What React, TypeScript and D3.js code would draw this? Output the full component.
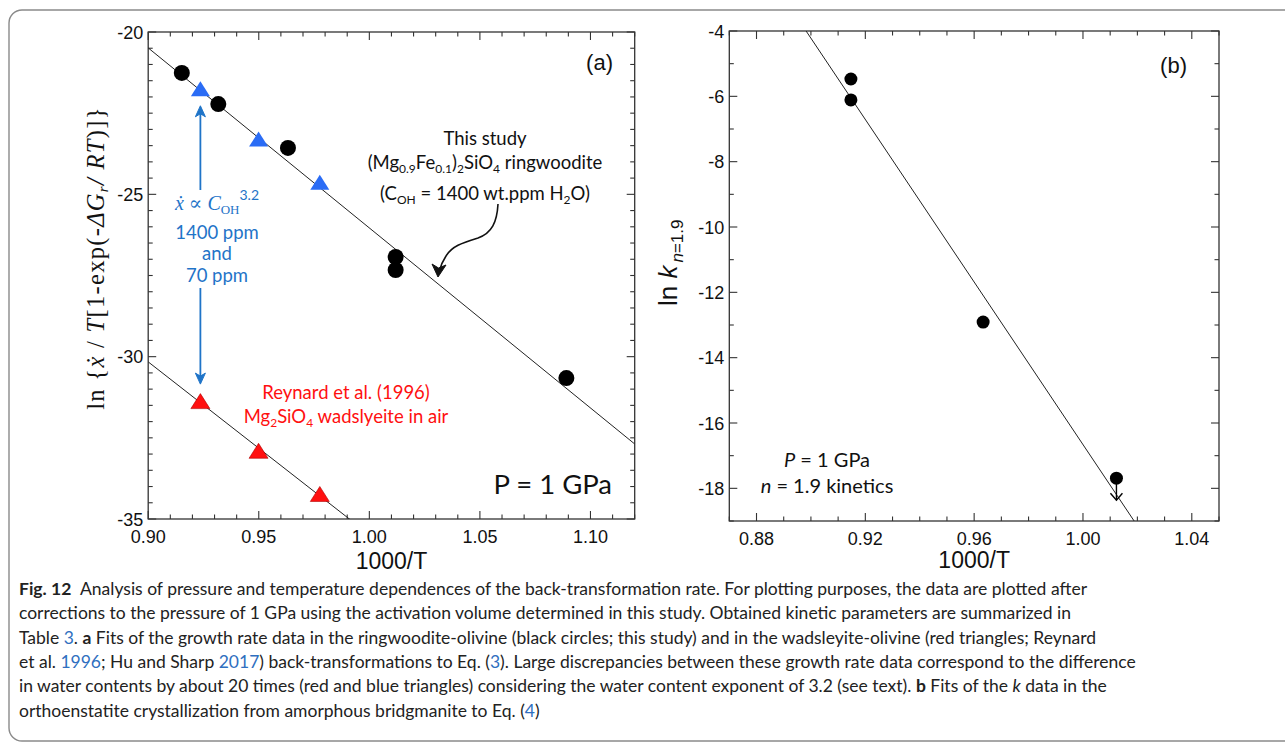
import React from 'react';
import * as d3 from 'd3';

const W = 1285;
const H = 743;

// ---- Panel (a): growth-rate data, ln{xdot / T[1-exp(-dG/RT)]} vs 1000/T ----
const ringwooditeT = [0.9152, 0.9317, 0.9632, 1.0119, 1.0119, 1.0891];
const ringwooditeLnRate = [-21.26, -22.22, -23.57, -26.93, -27.33, -30.66];
const wetWadsleyiteT = [0.9236, 0.9499, 0.9776];
const wetWadsleyiteLnRate = [-21.78, -23.33, -24.66];
const dryWadsleyiteT = [0.9236, 0.9499, 0.9776];
const dryWadsleyiteLnRate = [-31.4, -32.93, -34.26];
// fitted lines: [intercept, slope]
const fitRingwoodite = [29.415, -55.45];
const fitWadsleyite = [17.72, -53.2];
const aXTicks = [0.9, 0.95, 1.0, 1.05, 1.1];
const aYTicks = [-35, -30, -25, -20];

// ---- Panel (b): ln k (n = 1.9) vs 1000/T ----
const bridgmaniteT = [0.9147, 0.9147, 0.9633, 1.0123];
const bridgmaniteLnK = [-5.47, -6.11, -12.91, -17.69];
const bridgmaniteUpperLimit = [false, false, false, true];
const fitBridgmanite = [107.74, -124.4];
const bXTicks = [0.88, 0.92, 0.96, 1.0, 1.04];
const bYTicks = [-18, -16, -14, -12, -10, -8, -6, -4];

const SANS = "'Liberation Sans', Arial, sans-serif";
const HUM = "Lato, 'Open Sans', sans-serif";
const SERIF = "'Liberation Serif', 'DejaVu Serif', serif";
const BLUE_TEXT = '#1f74c8';
const BLUE_MARK = '#2a6cf5';
const RED = '#ff1010';
const LINK = '#2f6fc0';

const boxA = { l: 148.2, r: 634.7, t: 32, b: 519 };
const boxB = { l: 729.3, r: 1219, t: 31, b: 521 };

const xA = d3.scaleLinear().domain([0.9, 1.12]).range([boxA.l, boxA.r]);
const yA = d3.scaleLinear().domain([-35, -20]).range([boxA.b, boxA.t]);
const xB = d3.scaleLinear().domain([0.87, 1.05]).range([boxB.l, boxB.r]);
const yB = d3.scaleLinear().domain([-19, -4]).range([boxB.b, boxB.t]);

type Box = { l: number; r: number; t: number; b: number };

function Frame({
  box, x, y, xMajor, yMajor, xMinorStep, yMinorStep, xFmt, yFmt,
}: {
  box: Box;
  x: d3.ScaleLinear<number, number>;
  y: d3.ScaleLinear<number, number>;
  xMajor: number[];
  yMajor: number[];
  xMinorStep: number;
  yMinorStep: number;
  xFmt: (v: number) => string;
  yFmt: (v: number) => string;
}) {
  const [x0, x1] = x.domain();
  const [y0, y1] = y.domain();
  const eps = 1e-9;
  const xMinor = d3.range(Math.ceil(x0 / xMinorStep - eps), Math.floor(x1 / xMinorStep + eps) + 1).map((k) => k * xMinorStep);
  const yMinor = d3.range(Math.ceil(y0 / yMinorStep - eps), Math.floor(y1 / yMinorStep + eps) + 1).map((k) => k * yMinorStep);
  const isMajor = (v: number, arr: number[]) => arr.some((m) => Math.abs(m - v) < 1e-6);
  const major = 8;
  const minor = 4.5;
  const ticks: JSX.Element[] = [];
  xMinor.forEach((v, i) => {
    const len = isMajor(v, xMajor) ? major : minor;
    const px = x(v);
    ticks.push(<line key={`xb${i}`} x1={px} x2={px} y1={box.b} y2={box.b - len} />);
    ticks.push(<line key={`xt${i}`} x1={px} x2={px} y1={box.t} y2={box.t + len} />);
  });
  yMinor.forEach((v, i) => {
    const len = isMajor(v, yMajor) ? major : minor;
    const py = y(v);
    ticks.push(<line key={`yl${i}`} x1={box.l} x2={box.l + len} y1={py} y2={py} />);
    ticks.push(<line key={`yr${i}`} x1={box.r} x2={box.r - len} y1={py} y2={py} />);
  });
  return (
    <g>
      <g stroke="#333" strokeWidth={1.1}>{ticks}</g>
      <rect x={box.l} y={box.t} width={box.r - box.l} height={box.b - box.t} fill="none" stroke="#333" strokeWidth={1.3} />
      <g fontFamily={SANS} fontSize={18} fill="#111">
        {xMajor.map((v) => (
          <text key={`xl${v}`} x={x(v)} y={box.b + 24} textAnchor="middle">{xFmt(v)}</text>
        ))}
        {yMajor.map((v) => (
          <text key={`yl${v}`} x={box.l - 5} y={y(v) + 6.5} textAnchor="end">{yFmt(v)}</text>
        ))}
      </g>
    </g>
  );
}

function fitPath(fit: number[], x: d3.ScaleLinear<number, number>, y: d3.ScaleLinear<number, number>) {
  const [a, b] = x.domain();
  const line = d3.line<number>().x((t) => x(t)).y((t) => y(fit[0] + fit[1] * t));
  return line([a, b]) || '';
}

function triangle(cx: number, cy: number) {
  const hw = 9.5;
  return `M${cx},${cy - 8.5}L${cx + hw},${cy + 6.5}L${cx - hw},${cy + 6.5}Z`;
}

type Seg = { t: string; w?: 'bold'; i?: boolean; c?: string };
const captionLines: Seg[][] = [
  [{ t: 'Fig. 12', w: 'bold' }, { t: '\u2002Analysis of pressure and temperature dependences of the back-transformation rate. For plotting purposes, the data are plotted after' }],
  [{ t: 'corrections to the pressure of 1 GPa using the activation volume determined in this study. Obtained kinetic parameters are summarized in' }],
  [{ t: 'Table ' }, { t: '3', c: LINK }, { t: '. ' }, { t: 'a', w: 'bold' }, { t: ' Fits of the growth rate data in the ringwoodite-olivine (black circles; this study) and in the wadsleyite-olivine (red triangles; Reynard' }],
  [{ t: 'et al. ' }, { t: '1996', c: LINK }, { t: '; Hu and Sharp ' }, { t: '2017', c: LINK }, { t: ') back-transformations to Eq. (' }, { t: '3', c: LINK }, { t: '). Large discrepancies between these growth rate data correspond to the difference' }],
  [{ t: 'in water contents by about 20 times (red and blue triangles) considering the water content exponent of 3.2 (see text). ' }, { t: 'b', w: 'bold' }, { t: ' Fits of the ' }, { t: 'k', i: true }, { t: ' data in the' }],
  [{ t: 'orthoenstatite crystallization from amorphous bridgmanite to Eq. (' }, { t: '4', c: LINK }, { t: ')' }],
];

export default function App() {
  const clipA = 'clip-a';
  const clipB = 'clip-b';
  const arrowX = xA(wetWadsleyiteT[0]);
  const upTip = yA(wetWadsleyiteLnRate[0]) + 16;
  const downTip = yA(dryWadsleyiteLnRate[0]) - 18;

  return (
    <svg width={W} height={H} style={{ position: 'absolute', left: 0, top: 0, background: '#fff' }}>
      <defs>
        <clipPath id={clipA}><rect x={boxA.l} y={boxA.t} width={boxA.r - boxA.l} height={boxA.b - boxA.t} /></clipPath>
        <clipPath id={clipB}><rect x={boxB.l} y={boxB.t} width={boxB.r - boxB.l} height={boxB.b - boxB.t} /></clipPath>
      </defs>

      {/* outer figure frame */}
      <rect x={9} y={10} width={1300} height={731} rx={13} ry={13} fill="none" stroke="#8a8a8a" strokeWidth={1.4} />

      {/* ================= Panel (a) ================= */}
      <Frame box={boxA} x={xA} y={yA} xMajor={aXTicks} yMajor={aYTicks} xMinorStep={0.01} yMinorStep={0.5}
        xFmt={(v) => v.toFixed(2)} yFmt={(v) => String(v)} />
      <g clipPath={`url(#${clipA})`} fill="none" stroke="#222" strokeWidth={1}>
        <path d={fitPath(fitRingwoodite, xA, yA)} />
        <path d={fitPath(fitWadsleyite, xA, yA)} />
      </g>
      {ringwooditeT.map((t, i) => (
        <circle key={`rw${i}`} cx={xA(t)} cy={yA(ringwooditeLnRate[i])} r={8} fill="#000" />
      ))}
      {wetWadsleyiteT.map((t, i) => (
        <path key={`bw${i}`} d={triangle(xA(t), yA(wetWadsleyiteLnRate[i]))} fill={BLUE_MARK} />
      ))}
      {dryWadsleyiteT.map((t, i) => (
        <path key={`dw${i}`} d={triangle(xA(t), yA(dryWadsleyiteLnRate[i]))} fill={RED} stroke="#b00000" strokeWidth={0.6} />
      ))}

      {/* water-content arrows */}
      <g stroke={BLUE_TEXT} strokeWidth={1.8} fill={BLUE_TEXT}>
        <line x1={arrowX} x2={arrowX} y1={upTip + 6} y2={190} />
        <path d={`M${arrowX},${upTip} L${arrowX + 5},${upTip + 11} L${arrowX},${upTip + 8} L${arrowX - 5},${upTip + 11} Z`} strokeWidth={1} />
        <line x1={arrowX} x2={arrowX} y1={288} y2={downTip - 6} />
        <path d={`M${arrowX},${downTip} L${arrowX + 5},${downTip - 11} L${arrowX},${downTip - 8} L${arrowX - 5},${downTip - 11} Z`} strokeWidth={1} />
      </g>
      <g fill={BLUE_TEXT} textAnchor="middle">
        <text x={217} y={210} fontFamily={SERIF} fontSize={20}>
          <tspan fontStyle="italic">ẋ</tspan>
          <tspan> ∝ </tspan>
          <tspan fontStyle="italic">C</tspan>
          <tspan fontSize={13} dy={4}>OH</tspan>
          <tspan fontSize={14} dy={-14} fontFamily={HUM}>3.2</tspan>
        </text>
        <g fontFamily={HUM} fontSize={18.5}>
          <text x={217} y={239}>1400 ppm</text>
          <text x={217} y={260}>and</text>
          <text x={217} y={282}>70 ppm</text>
        </g>
      </g>

      {/* this study annotation */}
      <g fontFamily={HUM} fontSize={18.5} fill="#111" textAnchor="middle">
        <text x={485} y={145}>This study</text>
        <text x={485} y={169}>
          (Mg<tspan fontSize={12} dy={4}>0.9</tspan>
          <tspan dy={-4}>Fe</tspan>
          <tspan fontSize={12} dy={4}>0.1</tspan>
          <tspan dy={-4}>)</tspan>
          <tspan fontSize={12} dy={4}>2</tspan>
          <tspan dy={-4}>SiO</tspan>
          <tspan fontSize={12} dy={4}>4</tspan>
          <tspan dy={-4}> ringwoodite</tspan>
        </text>
        <text x={485} y={200}>
          (C<tspan fontSize={12} dy={4}>OH</tspan>
          <tspan dy={-4}> = 1400 wt.ppm H</tspan>
          <tspan fontSize={12} dy={4}>2</tspan>
          <tspan dy={-4}>O)</tspan>
        </text>
      </g>
      <path d="M498,204 C497,222 492,233 478,238 C462,243 452,246 446,256 C442,262 440,268 439,272" fill="none" stroke="#111" strokeWidth={1.6} />
      <path d="M438,277 L432,264 L438.5,268 L446,265 Z" fill="#111" stroke="#111" strokeWidth={1} />

      {/* Reynard et al. annotation */}
      <g fontFamily={HUM} fontSize={18.5} fill={RED} textAnchor="middle">
        <text x={346} y={399}>Reynard et al. (1996)</text>
        <text x={346} y={423}>
          Mg<tspan fontSize={12} dy={4}>2</tspan>
          <tspan dy={-4}>SiO</tspan>
          <tspan fontSize={12} dy={4}>4</tspan>
          <tspan dy={-4}> wadslyeite in air</tspan>
        </text>
      </g>

      <text x={613} y={70} fontFamily={SANS} fontSize={22} textAnchor="end" fill="#111">(a)</text>
      <text x={612} y={494} fontFamily={HUM} fontSize={27.5} textAnchor="end" fill="#111">P = 1 GPa</text>

      <text x={(boxA.l + boxA.r) / 2} y={569} fontFamily={SANS} fontSize={23} textAnchor="middle" fill="#111">1000/T</text>
      <text transform="translate(104,258) rotate(-90)" fontFamily={SERIF} fontSize={24.5} letterSpacing={1.3} textAnchor="middle" fill="#111">
        <tspan>ln {'{'}</tspan>
        <tspan fontStyle="italic">ẋ</tspan>
        <tspan> / </tspan>
        <tspan fontStyle="italic">T</tspan>
        <tspan>[1-exp(-</tspan>
        <tspan fontStyle="italic">ΔG</tspan>
        <tspan fontStyle="italic" fontSize={15} dy={4}>r</tspan>
        <tspan fontStyle="italic" dy={-4}>/ RT</tspan>
        <tspan>)]{'}'}</tspan>
      </text>

      {/* ================= Panel (b) ================= */}
      <Frame box={boxB} x={xB} y={yB} xMajor={bXTicks} yMajor={bYTicks} xMinorStep={0.01} yMinorStep={1}
        xFmt={(v) => v.toFixed(2)} yFmt={(v) => String(v)} />
      <g clipPath={`url(#${clipB})`} fill="none" stroke="#222" strokeWidth={1}>
        <path d={fitPath(fitBridgmanite, xB, yB)} />
      </g>
      {bridgmaniteT.map((t, i) => {
        const cx = xB(t);
        const cy = yB(bridgmaniteLnK[i]);
        return (
          <g key={`bg${i}`}>
            <circle cx={cx} cy={cy} r={6.5} fill="#000" />
            {bridgmaniteUpperLimit[i] && (
              <g stroke="#000" strokeWidth={1.4} fill="none">
                <line x1={cx} x2={cx} y1={cy} y2={cy + 22} />
                <path d={`M${cx - 6},${cy + 15} L${cx},${cy + 22} L${cx + 6},${cy + 15}`} />
              </g>
            )}
          </g>
        );
      })}
      <text x={1187} y={73} fontFamily={SANS} fontSize={22} textAnchor="end" fill="#111">(b)</text>
      <g fontFamily={HUM} fontSize={20} fill="#111" textAnchor="middle">
        <text x={827} y={467}><tspan fontStyle="italic">P</tspan> = 1 GPa</text>
        <text x={827} y={493}><tspan fontStyle="italic">n</tspan> = 1.9 kinetics</text>
      </g>
      <text x={(boxB.l + boxB.r) / 2} y={568} fontFamily={SANS} fontSize={23} textAnchor="middle" fill="#111">1000/T</text>
      <text transform="translate(677,306) rotate(-90)" fontFamily={SANS} fontSize={26} fill="#111">
        <tspan>ln </tspan>
        <tspan fontStyle="italic">k</tspan>
        <tspan fontSize={17} dy={6} dx={3}><tspan fontStyle="italic">n</tspan>=1.9</tspan>
      </text>

      {/* ================= caption ================= */}
      <g fontFamily={HUM} fontSize={17.5} fill="#222">
        {captionLines.map((segs, li) => (
          <text key={`cap${li}`} x={19} y={595 + li * 24.3}>
            {segs.map((s, si) => (
              <tspan key={si} fontWeight={s.w || 'normal'} fontStyle={s.i ? 'italic' : 'normal'} fill={s.c || '#222'}>{s.t}</tspan>
            ))}
          </text>
        ))}
      </g>
    </svg>
  );
}
